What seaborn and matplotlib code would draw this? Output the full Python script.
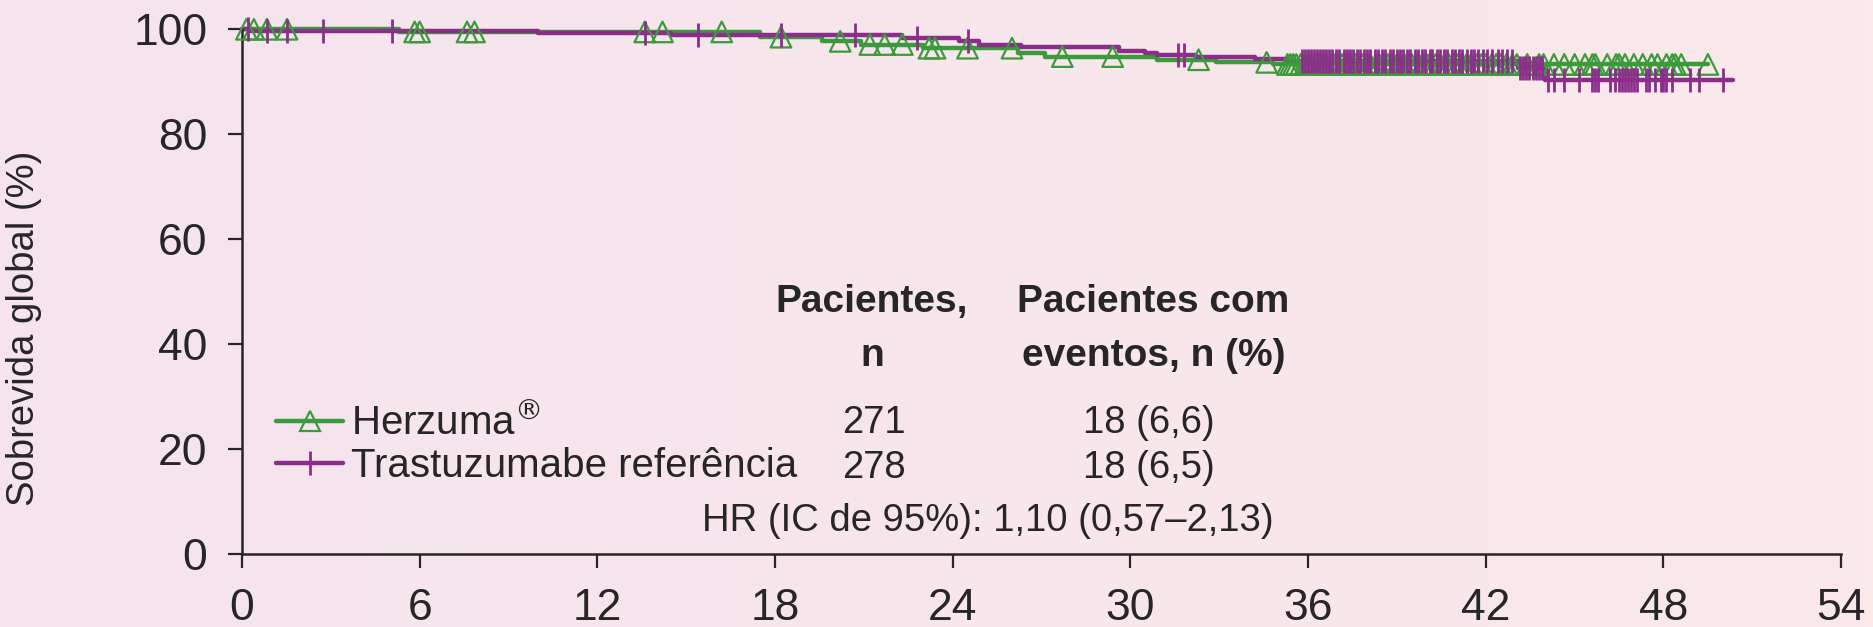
"""Sobrevida global - Herzuma vs trastuzumabe referencia (Kaplan-Meier)"""
import numpy as np
import pandas as pd
import matplotlib
matplotlib.use("Agg")
from matplotlib import pyplot as plt
from matplotlib.colors import LinearSegmentedColormap
from matplotlib.lines import Line2D
import seaborn as sns


# steps: month of each drop, % alive after the drop
herzuma_step_t = [0, 5.3, 17.5, 19.6, 20.9, 23.0, 26.2, 27.1, 30.9, 32.9, 34.8, 49.5]
herzuma_step_s = [100, 99.5, 98.5, 97.7, 97.1, 96.4, 95.5, 94.8, 94.2, 93.7, 93.3, 93.3]

ref_step_t = [0, 0.3, 10.0, 14.5, 22.3, 24.2, 24.9, 26.3, 29.6, 30.5, 30.9,
              32.2, 34.2, 35.3, 43.1, 44.0, 50.35]
ref_step_s = [100, 99.7, 99.3, 98.9, 98.3, 97.8, 97.1, 96.7, 95.9, 95.4, 95.1,
              94.8, 94.3, 94.0, 92.6, 90.4, 90.4]

# censored patients (months)
herzuma_censor = [0.15, 0.4, 0.84, 1.52, 5.83, 6.0, 7.6, 7.85, 13.6, 14.2, 16.2,
                  18.2, 20.2, 21.2, 21.7, 22.3, 23.2, 23.4, 24.5, 26.0, 27.7,
                  29.4, 32.3, 34.6,
                  35.3, 35.4, 35.5, 35.6, 35.75, 35.9, 36.0, 36.1, 36.25, 36.4,
                  36.5, 36.6, 36.8, 36.9, 37.0, 37.15, 37.3, 37.4, 37.6, 37.7,
                  37.85, 38.0, 38.1, 38.3, 38.4, 38.55, 38.7, 38.8, 39.0, 39.1,
                  39.25, 39.4, 39.5, 39.7, 39.85, 40.0, 40.1, 40.3, 40.45, 40.6,
                  40.75, 40.9, 41.05, 41.2, 41.35, 41.5, 41.7, 41.85, 42.0, 42.2,
                  42.35, 42.5, 42.7, 42.9, 43.05,
                  43.4, 43.8, 43.95, 44.3, 44.65, 45.0, 45.35, 45.6, 45.7, 46.1,
                  46.4, 46.5, 46.7, 47.0, 47.3, 47.6, 47.8, 48.1, 48.3, 48.4,
                  48.6, 49.5]

ref_censor = [0.2, 0.84, 1.52, 2.73, 5.06, 13.6, 15.4, 18.2, 20.7, 22.8, 24.5,
              31.6, 31.8,
              35.8, 35.9, 36.0, 36.1, 36.2, 36.3, 36.4, 36.5, 36.6, 36.7, 36.8,
              36.95, 37.05, 37.2, 37.3, 37.4, 37.5, 37.65, 37.75, 37.9, 38.0,
              38.1, 38.25, 38.35, 38.5, 38.6, 38.75, 38.85, 39.0, 39.1, 39.2,
              39.35, 39.45, 39.6, 39.7, 39.85, 39.95, 40.1, 40.2, 40.35, 40.45,
              40.6, 40.7, 40.85, 40.95, 41.1, 41.2, 41.35, 41.5, 41.6, 41.75,
              41.9, 42.05, 42.2, 42.4, 42.55, 42.7, 42.9,
              43.15, 43.25, 43.35, 43.45, 43.6, 43.7, 43.8, 43.9,
              44.1, 44.3, 44.65, 45.15, 45.6, 45.7, 45.8, 46.2, 46.35, 46.5,
              46.6, 46.7, 46.8, 46.9, 47.0, 47.1, 47.4, 47.5, 47.7, 47.9, 48.0,
              48.1, 48.3, 48.9, 49.2, 50.0]

x_ticks = [0, 6, 12, 18, 24, 30, 36, 42, 48, 54]
y_ticks = [0, 20, 40, 60, 80, 100]

labels = [r"Herzuma$^{\circledR}$", "Trastuzumabe referência"]
table_header = [("Pacientes,", "n"), ("Pacientes com", "eventos, n (%)")]
n_patients = ["271", "278"]
n_events = ["18 (6,6)", "18 (6,5)"]
hr_text = "HR (IC de 95%): 1,10 (0,57–2,13)"

GREEN = "#3b9a3b"
PURPLE = "#8c2d8c"


def step_value(step_t, step_s, times):
    """Survival value of the step curve at each time"""
    idx = np.searchsorted(step_t, times, side="right") - 1
    return np.asarray(step_s)[idx]


sns.set_style("ticks")
plt.rcParams["font.family"] = ["Liberation Sans", "DejaVu Sans"]
plt.rcParams["mathtext.fontset"] = "dejavusans"

fig = plt.figure(figsize=(18.73, 6.27), dpi=100)

# pink background gradient
bg = fig.add_axes([0, 0, 1, 1], zorder=-10)
bg.imshow(np.linspace(0, 1, 256).reshape(1, -1), aspect="auto", extent=[0, 1, 0, 1],
          cmap=LinearSegmentedColormap.from_list("bg", ["#f5e4ee", "#f9e9e9"]))
bg.axis("off")

ax = fig.add_axes([0.1292, 0.116, 0.8538, 0.8373])
ax.set_facecolor("none")

curves = [
    (herzuma_step_t, herzuma_step_s, herzuma_censor, GREEN, "^", 220, 1.6),
    (ref_step_t, ref_step_s, ref_censor, PURPLE, "|", 300, 2.0),
]
for step_t, step_s, censor, color, marker, size, mew in curves:
    df = pd.DataFrame({"mes": step_t, "sobrevida": step_s})
    sns.lineplot(data=df, x="mes", y="sobrevida", drawstyle="steps-post",
                 estimator=None, sort=False, color=color, lw=3.2, ax=ax,
                 clip_on=False)
    cens = pd.DataFrame({"mes": censor,
                         "sobrevida": step_value(step_t, step_s, censor)})
    if marker == "^":
        sns.scatterplot(data=cens, x="mes", y="sobrevida", marker=marker, s=size,
                        facecolor="none", edgecolor=color, linewidth=mew, ax=ax,
                        clip_on=False, zorder=3)
    else:
        sns.scatterplot(data=cens, x="mes", y="sobrevida", marker=marker, s=size,
                        color=color, linewidth=mew, ax=ax, clip_on=False, zorder=3)

ax.set_xlim(0, 54)
ax.set_ylim(0, 100)
ax.set_xticks(x_ticks)
ax.set_yticks(y_ticks)
ax.set_xlabel("")
ax.set_ylabel("Sobrevida global (%)", fontsize=27.5)
ax.yaxis.set_label_coords(-0.125, 0.43)
sns.despine(ax=ax)
for side in ["left", "bottom"]:
    ax.spines[side].set_linewidth(1.8)
ax.tick_params(axis="both", labelsize=32, length=10, width=1.6, direction="out")
ax.tick_params(axis="x", pad=14)
ax.tick_params(axis="y", pad=15)

handles = [
    Line2D([], [], color=GREEN, lw=3.2, marker="^", ms=14, mfc="none", mew=1.6),
    Line2D([], [], color=PURPLE, lw=3.2, marker="|", ms=17, mew=2.0),
]
ax.legend(handles, labels, loc="lower left", bbox_to_anchor=(0.0215, 0.132),
          frameon=False, fontsize=29, handlelength=1.65, handletextpad=0.2,
          labelspacing=0.1, borderpad=0, borderaxespad=0)

# table of patients / events
for x, (line1, line2) in zip([0.394, 0.570], table_header):
    ax.text(x, 0.461, line1, transform=ax.transAxes, ha="center", va="baseline",
            fontsize=28, fontweight="bold")
    ax.text(x, 0.358, line2, transform=ax.transAxes, ha="center", va="baseline",
            fontsize=28, fontweight="bold")
for y, n, ev in zip([0.2305, 0.146], n_patients, n_events):
    ax.text(0.395, y, n, transform=ax.transAxes, ha="center", va="baseline",
            fontsize=27.5)
    ax.text(0.567, y, ev, transform=ax.transAxes, ha="center", va="baseline",
            fontsize=27.5)
ax.text(0.4665, 0.045, hr_text, transform=ax.transAxes, ha="center",
        va="baseline", fontsize=27.5)

fig.savefig("out.png", dpi=100)
